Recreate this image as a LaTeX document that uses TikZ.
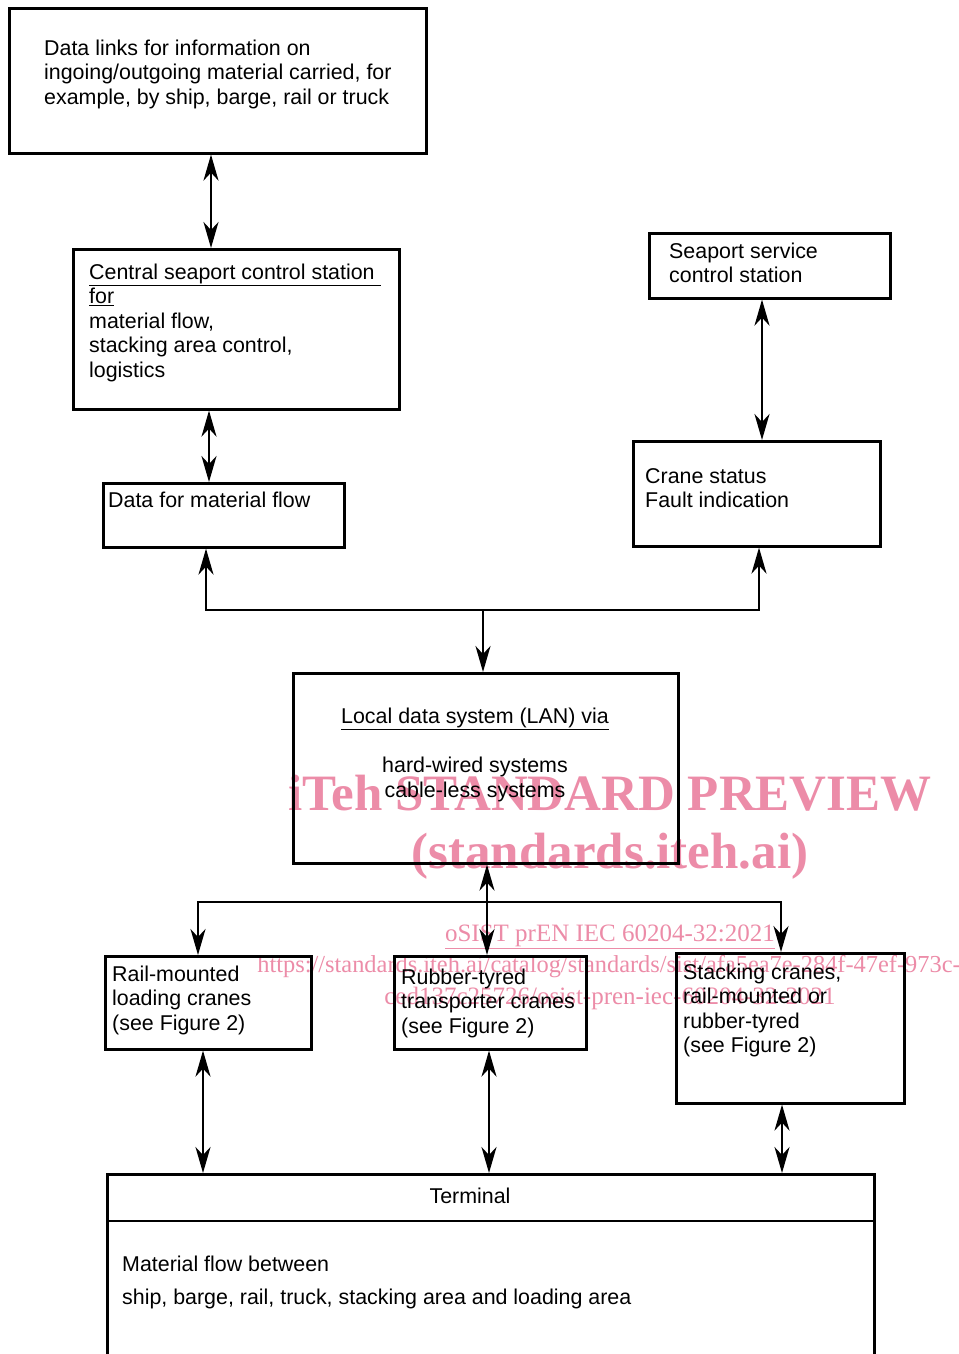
\documentclass[tikz,border=0pt]{standalone}
\usepackage{fontspec}
\setmainfont{Liberation Sans}
\newfontfamily\wmfont{Liberation Serif}
\usetikzlibrary{arrows.meta}
\definecolor{wmpink}{RGB}{236,140,168}

\begin{document}
\begin{tikzpicture}[x=1pt,y=-1pt,
    box/.style={draw,line width=2.6pt,anchor=north west,inner sep=0pt},
    lbl/.style={anchor=base west,align=left,inner sep=0pt,font=\fontsize{21.4}{24.5}\selectfont},
    link/.style={line width=2.4pt,{Stealth[length=26pt,width=15pt,inset=8pt]}-{Stealth[length=26pt,width=15pt,inset=8pt]}},
    feed/.style={line width=2.4pt,-{Stealth[length=26pt,width=15pt,inset=8pt]}},
    bus/.style={line width=2.4pt,line cap=rect},
    wm/.style={text=wmpink,inner sep=0pt,anchor=base}]
    \useasboundingbox (0,0) rectangle (958,1354);

    % watermark (behind the drawing)
    \begin{scope}[every node/.style={wm}]
        \node[font=\wmfont\bfseries\fontsize{51}{51}\selectfont] (wmtitle) at (610,810) {iTeh STANDARD PREVIEW};
        \node[font=\wmfont\bfseries\fontsize{51}{51}\selectfont] (wmsite) at (610,868) {(standards.iteh.ai)};
        \node[font=\wmfont\fontsize{25}{25}\selectfont] (wmdoc) at (610,941) {\underline{oSIST prEN IEC 60204-32:2021}};
        \node[font=\wmfont\fontsize{24.4}{25}\selectfont] (wmurl) at (609,972) {https://standards.iteh.ai/catalog/standards/sist/afa5ea7e-284f-47ef-973c-};
        \node[font=\wmfont\fontsize{25}{25}\selectfont] (wmurlb) at (610,1004) {ced137c25726/osist-pren-iec-60204-32-2021};
    \end{scope}

    % boxes
    \begin{scope}[every node/.style={box}]
        \node[minimum width=417pt,minimum height=145pt] (links) at (8,7) {};
        \node[minimum width=326pt,minimum height=160pt] (central) at (72,248) {};
        \node[minimum width=241pt,minimum height=64pt] (matflow) at (102,482) {};
        \node[minimum width=241pt,minimum height=65pt] (service) at (648,232) {};
        \node[minimum width=247pt,minimum height=105pt] (status) at (632,440) {};
        \node[minimum width=385pt,minimum height=190pt] (lan) at (292,672) {};
        \node[minimum width=206pt,minimum height=93pt] (rail) at (104,955) {};
        \node[minimum width=192pt,minimum height=93pt] (rubber) at (393,955) {};
        \node[minimum width=228pt,minimum height=150pt] (stack) at (675,952) {};
        \node[minimum width=767pt,minimum height=200pt] (term) at (106,1173) {};
    \end{scope}
    \draw[line width=2.6pt] ([yshift=-48pt]term.north west) -- ([yshift=-48pt]term.north east);

    % texts (anchored on the baseline of the last line)
    \node[lbl] (linkstxt) at (44,104) {Data links for information on\\ingoing/outgoing material carried, for\\example, by ship, barge, rail or truck};
    \node[lbl] (centraltxt) at (89,377) {\underline{Central seaport control station\ }\\\underline{for}\\material flow,\\stacking area control,\\logistics};
    \node[lbl] (matflowtxt) at (108,507) {Data for material flow};
    \node[lbl] (servicetxt) at (669,282.5) {Seaport service\\control station};
    \node[lbl] (statustxt) at (645,507.5) {Crane status\\Fault indication};
    \node[lbl,anchor=base,align=center] (lantxt) at (475,797) {\underline{Local data system (LAN) via}\\[24.5pt]hard-wired systems\\cable-less systems};
    \node[lbl] (railtxt) at (112,1030) {Rail-mounted\\loading cranes\\(see Figure 2)};
    \node[lbl] (rubbertxt) at (401,1033) {Rubber-tyred\\transporter cranes\\(see Figure 2)};
    \node[lbl] (stacktxt) at (683,1052.5) {Stacking cranes,\\rail-mounted or\\rubber-tyred\\(see Figure 2)};
    \node[lbl,anchor=base] (termtxt) at (470,1203) {Terminal};
    \node[lbl] (flowtxt) at (122,1304) {Material flow between\\[8.5pt]ship, barge, rail, truck, stacking area and loading area};

    % connectors
    \coordinate (tl) at (206,610);
    \coordinate (tm) at (483,610);
    \coordinate (tr) at (759,610);
    \coordinate (bl) at (198,902);
    \coordinate (bm) at (487,902);
    \coordinate (br) at (781,902);
    \path
        (211,0 |- links.south) edge[link] (211,0 |- central.north)
        (209,0 |- central.south) edge[link] (209,0 |- matflow.north)
        (762,0 |- service.south) edge[link] (762,0 |- status.north)
        (tl) edge[feed] (tl |- matflow.south)
        (tr) edge[feed] (tr |- status.south)
        (tm) edge[feed] (tm |- lan.north)
        (bm |- lan.south) edge[link] (bm |- rubber.north)
        (bl) edge[feed] (bl |- rail.north)
        (br) edge[feed] (br |- stack.north)
        (203,0 |- rail.south) edge[link] (203,0 |- term.north)
        (489,0 |- rubber.south) edge[link] (489,0 |- term.north)
        (782,0 |- stack.south) edge[link] (782,0 |- term.north);
    \draw[bus] (tl) -- (tr);
    \draw[bus] (bl) -- (br);
\end{tikzpicture}
\end{document}
